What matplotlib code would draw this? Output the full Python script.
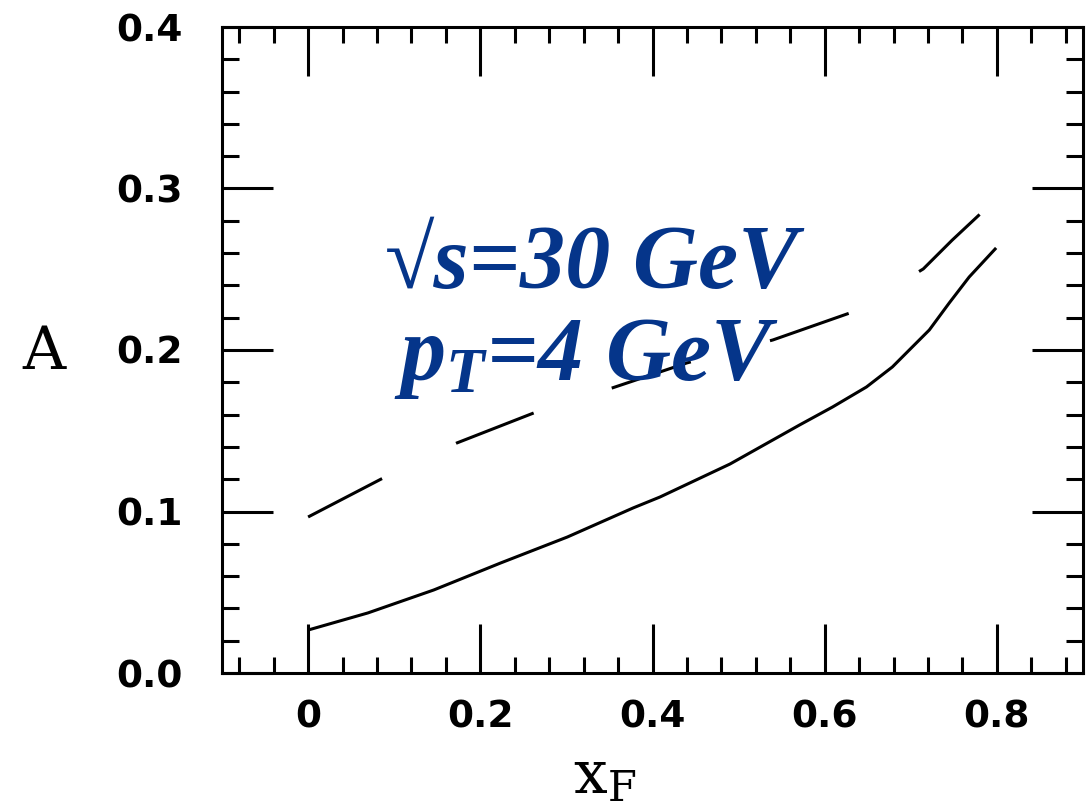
import matplotlib
matplotlib.use("Agg")
import matplotlib.pyplot as plt
from matplotlib.ticker import MultipleLocator

# ---- data ----
xf_solid = [0.0, 0.0695, 0.1459, 0.2235, 0.3011, 0.3775, 0.4088, 0.49, 0.5709,
            0.6091, 0.6485, 0.6786, 0.7018, 0.7215, 0.7446, 0.7678, 0.7991]
a_solid = [0.0266, 0.0372, 0.0514, 0.0681, 0.0842, 0.1022, 0.109, 0.1294, 0.1536,
           0.1647, 0.1771, 0.1895, 0.2019, 0.2124, 0.2291, 0.2452, 0.2632]

xf_dashed = [0.0, 0.0845, 0.1726, 0.262, 0.3532, 0.44, 0.5397, 0.6323, 0.7145, 0.748, 0.7817]
a_dashed = [0.0966, 0.120, 0.1424, 0.161, 0.1765, 0.192, 0.2062, 0.2235, 0.2502, 0.268, 0.2848]

x_ticks = [0, 0.2, 0.4, 0.6, 0.8]
x_ticklabels = ["0", "0.2", "0.4", "0.6", "0.8"]
y_ticks = [0.0, 0.1, 0.2, 0.3, 0.4]
y_ticklabels = ["0.0", "0.1", "0.2", "0.3", "0.4"]

line1 = r"√s=30 GeV"
line2 = r"$p_T$=4 GeV"

plt.rcParams["lines.scale_dashes"] = False
plt.rcParams["mathtext.fontset"] = "custom"
plt.rcParams["mathtext.rm"] = "DejaVu Serif"
plt.rcParams["mathtext.it"] = "Liberation Serif:style=italic:weight=bold"
plt.rcParams["mathtext.bf"] = "Liberation Serif:style=italic:weight=bold"

fig = plt.figure(figsize=(10.86, 8.05), dpi=100)
ax = fig.add_axes([222 / 1086, 1 - 673 / 805, (1083 - 222) / 1086, (673 - 27) / 805])

lw = 2.2
ax.plot(xf_solid, a_solid, color="black", lw=lw, solid_capstyle="butt",
        solid_joinstyle="round")
ax.plot(xf_dashed, a_dashed, color="black", lw=lw, linestyle=(0, (60, 59)),
        dash_capstyle="butt", dash_joinstyle="round")

ax.set_xlim(-0.1, 0.9)
ax.set_ylim(0.0, 0.4)

ax.set_xticks(x_ticks)
ax.set_xticklabels(x_ticklabels)
ax.set_yticks(y_ticks)
ax.set_yticklabels(y_ticklabels)
ax.xaxis.set_minor_locator(MultipleLocator(0.04))
ax.yaxis.set_minor_locator(MultipleLocator(0.02))

for s in ax.spines.values():
    s.set_linewidth(lw)

ax.tick_params(axis="both", which="both", direction="in", top=True, right=True,
               width=lw, colors="black")
ax.tick_params(axis="x", which="major", length=35, pad=19)
ax.tick_params(axis="y", which="major", length=37, pad=28)
ax.tick_params(axis="x", which="minor", length=11.5)
ax.tick_params(axis="y", which="minor", length=12.5)

for lab in ax.get_xticklabels() + ax.get_yticklabels():
    lab.set_fontfamily("DejaVu Sans")
    lab.set_fontweight("bold")
    lab.set_fontsize(27)

ax.set_ylabel("A", rotation=0, fontsize=43, family="DejaVu Serif",
              va="center", ha="center")
ax.yaxis.set_label_coords((44 - 222) / 861, (673 - 352) / 646)
ax.set_xlabel(r"$\mathrm{x}_\mathrm{F}$", fontsize=43, family="DejaVu Serif",
              va="top", ha="center")
ax.xaxis.set_label_coords((605 - 222) / 861, (673 - 748) / 646)

txt_color = "#05358a"
fig.text(591 / 1086, 1 - 288 / 805, line1, fontsize=65, color=txt_color,
         family=["Liberation Serif", "DejaVu Serif"], style="italic", weight="bold",
         ha="center", va="baseline")
fig.text(586 / 1086, 1 - 380 / 805, line2, fontsize=65, color=txt_color,
         family=["Liberation Serif", "DejaVu Serif"], style="italic", weight="bold",
         ha="center", va="baseline")

fig.savefig("out.png", dpi=100)
